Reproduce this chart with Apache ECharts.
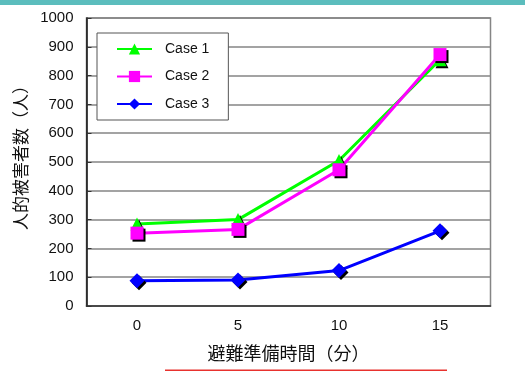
<!DOCTYPE html>
<html>
<head>
<meta charset="utf-8">
<script src="https://cdn.jsdelivr.net/npm/echarts@6/dist/echarts.min.js"></script>
<style>
  html, body { margin: 0; padding: 0; background: #fff; }
  #chart { width: 525px; height: 372px; }
</style>
</head>
<body>
<div id="chart"></div>
<script>
// Preparation time before evacuation (minutes)
const categories = ['0', '5', '10', '15'];
const seriesNames = ['Case 1', 'Case 2', 'Case 3'];
// Human casualties (people) per case
const case1 = [285, 300, 505, 855];
const case2 = [253, 266, 473, 873];
const case3 = [88, 90, 123, 261];
const yTicks = { min: 0, max: 1000, step: 100 };

const latin = '"Liberation Sans", Arial, sans-serif';
const cjk = '"Noto Sans CJK JP", "Noto Sans CJK SC", sans-serif';

const markerShadow = {
  shadowColor: '#000',
  shadowBlur: 0,
  shadowOffsetX: 2,
  shadowOffsetY: 2
};

function lineSeries(name, data, color, symbol, size) {
  return {
    name: name,
    type: 'line',
    data: data,
    symbol: symbol,
    symbolSize: size,
    showAllSymbol: true,
    lineStyle: { color: color, width: 3 },
    itemStyle: Object.assign({ color: color }, markerShadow),
    emphasis: { disabled: true },
    animation: false
  };
}

const chart = echarts.init(document.getElementById('chart'), null, { renderer: 'canvas' });
chart.setOption({
  backgroundColor: '#fff',
  animation: false,
  grid: {
    left: 86.5, right: 34.5, top: 18, bottom: 66,
    show: true, borderColor: '#858585', borderWidth: 1.5, backgroundColor: 'transparent'
  },
  legend: {
    orient: 'vertical',
    left: 97, top: 33,
    padding: [9, 19, 9, 19],
    backgroundColor: '#fff',
    borderColor: '#555',
    borderWidth: 1,
    itemWidth: 35,
    itemHeight: 14,
    itemGap: 13.5,
    itemStyle: { shadowColor: 'transparent' },
    textStyle: { fontFamily: latin, fontSize: 14, color: '#111', lineHeight: 14, padding: [0, 0, 0, 8] },
    data: seriesNames
  },
  xAxis: {
    type: 'category',
    data: categories,
    boundaryGap: true,
    name: '避難準備時間（分）',
    nameLocation: 'middle',
    nameGap: 38,
    nameTextStyle: { fontFamily: cjk, fontSize: 18, color: '#111' },
    axisLine: { lineStyle: { color: '#333', width: 1.5 } },
    axisTick: { inside: true, length: 5, lineStyle: { color: '#333' } },
    axisLabel: { fontFamily: latin, fontSize: 15, color: '#111', margin: 12 },
    splitLine: { show: false }
  },
  yAxis: {
    type: 'value',
    min: yTicks.min,
    max: yTicks.max,
    interval: yTicks.step,
    name: '人的被害者数（人）',
    nameLocation: 'middle',
    nameGap: 56,
    nameRotate: 90,
    nameTextStyle: { fontFamily: cjk, fontSize: 17, color: '#111', padding: [0, 0, 0, 17] },
    axisLine: { show: true, lineStyle: { color: '#111', width: 1.5 } },
    axisTick: { show: true, inside: true, length: 5, lineStyle: { color: '#333' } },
    axisLabel: {
      fontFamily: latin, fontSize: 15, color: '#111', margin: 13,
      formatter: function (v) { return String(v); }
    },
    splitLine: { show: true, lineStyle: { color: '#858585', width: 1.5 } }
  },
  series: [
    lineSeries(seriesNames[0], case1, '#00ff00', 'triangle', 13),
    lineSeries(seriesNames[1], case2, '#ff00ff', 'rect', 13),
    lineSeries(seriesNames[2], case3, '#0000ff', 'diamond', 15)
  ],
  graphic: [
    { type: 'rect', left: 0, top: 0, shape: { width: 525, height: 5 }, style: { fill: '#5bbdbd' }, silent: true },
    { type: 'rect', left: 165, top: 369.5, shape: { width: 282, height: 1.5 }, style: { fill: '#e8322e' }, silent: true }
  ]
});
</script>
</body>
</html>
